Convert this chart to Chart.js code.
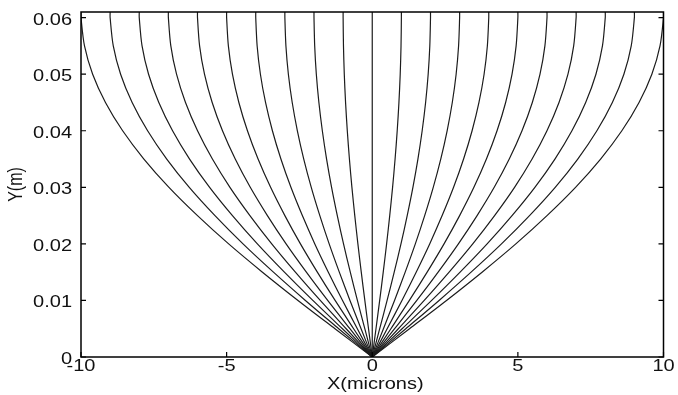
<!DOCTYPE html>
<html>
<head>
<meta charset="utf-8">
<script src="https://cdn.jsdelivr.net/npm/chart.js@4.4.1/dist/chart.umd.min.js"></script>
<style>
html,body{margin:0;padding:0;background:#fff}
#wrap{width:678px;height:395px}
</style>
</head>
<body>
<div id="wrap"><canvas id="rays"></canvas></div>
<script>
// x of each ray where it reaches the top of the plot (microns)
const rayTops=[-10,-9,-8,-7,-6,-5,-4,-3,-2,-1,0,1,2,3,4,5,6,7,8,9,10];
// height samples (m) and the outermost (10 micron) ray's x at each of them
const yLevels=[0,0.005,0.010,0.015,0.020,0.025,0.030,0.035,0.040,0.045,0.050,0.055,0.060,0.061];
const edgeRay=[0,1.28,2.55,3.77,4.93,6.00,6.98,7.84,8.57,9.16,9.60,9.88,10.0,10.0];
const xTicks=[-10,-5,0,5,10];
const yTicks=[0,0.01,0.02,0.03,0.04,0.05,0.06];

const datasets=rayTops.map(t=>({
    data:yLevels.map((y,j)=>({x:t*edgeRay[j]/edgeRay[edgeRay.length-1],y})),
    showLine:true,borderColor:'#1c1c1c',borderWidth:1.2,pointRadius:0,tension:0.3
}));

function txt(ctx,s,x,y,align,base){
    ctx.save();ctx.translate(x,y);ctx.scale(1.25,1);
    ctx.textAlign=align;ctx.textBaseline=base;ctx.fillText(s,0,0);
    ctx.restore();
}

// box, inward ticks and all labels
const frame={id:'frame',afterDraw(chart){
    const {ctx,chartArea:a,scales:{x,y}}=chart;
    ctx.save();
    ctx.strokeStyle='#000';ctx.lineWidth=1.5;
    ctx.strokeRect(a.left,a.top,a.right-a.left,a.bottom-a.top);
    ctx.lineWidth=1.2;ctx.beginPath();
    yTicks.forEach(v=>{const p=y.getPixelForValue(v);
        ctx.moveTo(a.left,p);ctx.lineTo(a.left+5,p);
        ctx.moveTo(a.right,p);ctx.lineTo(a.right-5,p);});
    xTicks.forEach(v=>{const p=x.getPixelForValue(v);
        ctx.moveTo(p,a.bottom);ctx.lineTo(p,a.bottom-5);});
    ctx.stroke();
    ctx.fillStyle='#111';ctx.font='16px "Liberation Sans", Arial, sans-serif';
    yTicks.forEach(v=>txt(ctx,v===0?'0':v.toFixed(2),a.left-9,y.getPixelForValue(v)+2.5,'right','middle'));
    xTicks.forEach(v=>txt(ctx,String(v),x.getPixelForValue(v),a.bottom+2,'center','top'));
    txt(ctx,'X(microns)',(a.left+a.right)/2+3,385,'center','middle');
    ctx.save();ctx.translate(16,(a.top+a.bottom)/2);ctx.scale(1.25,1);ctx.rotate(-Math.PI/2);
    ctx.textAlign='center';ctx.textBaseline='middle';ctx.fillText('Y(m)',0,0);ctx.restore();
    ctx.restore();
}};

new Chart(document.getElementById('rays'),{
    type:'scatter',
    data:{datasets},
    options:{
        responsive:true,maintainAspectRatio:false,animation:false,
        layout:{padding:{left:81,right:14.5,top:12,bottom:38}},
        plugins:{legend:{display:false},tooltip:{enabled:false}},
        scales:{
            x:{type:'linear',min:-10,max:10,display:false},
            y:{type:'linear',min:0,max:0.061,display:false}
        }
    },
    plugins:[frame]
});
</script>
</body>
</html>
